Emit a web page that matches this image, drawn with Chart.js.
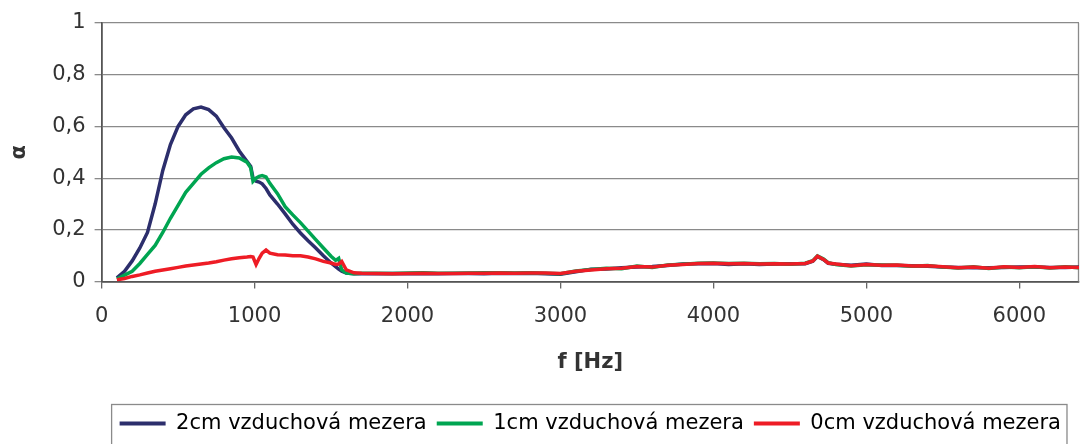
<!DOCTYPE html>
<html>
<head>
<meta charset="utf-8">
<script src="https://cdn.jsdelivr.net/npm/chart.js@4"></script>
<style>
  html, body { margin: 0; padding: 0; background: #fff; }
</style>
</head>
<body>
<canvas id="alpha-chart" width="1080" height="444"></canvas>
<script>
// frequency points [Hz]
const freq = [
    100, 150, 200, 250, 300, 350, 400, 450, 500, 550, 600, 650, 700, 750, 800, 850, 900, 950, 975, 990,
    1010, 1030, 1050, 1075, 1100, 1150, 1200, 1250, 1300, 1350, 1400, 1450, 1500, 1530, 1550, 1570, 1600, 1650, 1700,
    1800, 1900, 2000, 2100, 2200, 2300, 2400, 2500, 2600, 2700, 2800, 2900, 3000, 3100, 3200, 3300, 3400, 3500,
    3600, 3700, 3800, 3900, 4000, 4100, 4200, 4300, 4400, 4500, 4600, 4650, 4680, 4720, 4750,
    4800, 4900, 5000, 5100, 5200, 5300, 5400, 5500, 5600, 5700, 5800, 5900, 6000, 6100, 6200, 6300, 6390
];

// absorption coefficient, 2cm air gap
const alpha2cm = [
    0.015, 0.04, 0.08, 0.13, 0.19, 0.30, 0.43, 0.53, 0.60, 0.645, 0.668, 0.675, 0.665, 0.64, 0.595, 0.555, 0.505, 0.465, 0.445, 0.40,
    0.388, 0.385, 0.378, 0.36, 0.335, 0.30, 0.262, 0.222, 0.188, 0.158, 0.13, 0.10, 0.072, 0.058, 0.048, 0.04, 0.033, 0.03, 0.03,
    0.030, 0.031, 0.030, 0.031, 0.030, 0.031, 0.031, 0.030, 0.032, 0.031, 0.032, 0.030, 0.028, 0.038, 0.048, 0.049, 0.054, 0.056,
    0.058, 0.062, 0.068, 0.069, 0.070, 0.066, 0.069, 0.066, 0.068, 0.069, 0.069, 0.079, 0.097, 0.085, 0.071,
    0.067, 0.063, 0.068, 0.062, 0.062, 0.061, 0.059, 0.056, 0.055, 0.054, 0.054, 0.055, 0.056, 0.056, 0.055, 0.055, 0.056
];

// 1cm air gap
const alpha1cm = [
    0.01, 0.025, 0.04, 0.07, 0.105, 0.14, 0.19, 0.245, 0.295, 0.345, 0.38, 0.415, 0.44, 0.46, 0.475, 0.482, 0.478, 0.462, 0.44, 0.388,
    0.40, 0.407, 0.41, 0.405, 0.38, 0.34, 0.29, 0.258, 0.228, 0.195, 0.162, 0.13, 0.098, 0.082, 0.09, 0.045, 0.033, 0.03, 0.032,
    0.032, 0.031, 0.033, 0.034, 0.032, 0.032, 0.033, 0.034, 0.034, 0.033, 0.034, 0.032, 0.030, 0.041, 0.047, 0.052, 0.050, 0.060,
    0.055, 0.064, 0.067, 0.071, 0.072, 0.070, 0.071, 0.069, 0.070, 0.067, 0.071, 0.081, 0.099, 0.087, 0.073,
    0.066, 0.060, 0.065, 0.064, 0.063, 0.059, 0.062, 0.056, 0.053, 0.057, 0.051, 0.056, 0.054, 0.057, 0.053, 0.057, 0.054
];

// 0cm air gap
const alpha0cm = [
    0.007, 0.012, 0.02, 0.026, 0.033, 0.04, 0.045, 0.05, 0.055, 0.06, 0.064, 0.068, 0.072, 0.077, 0.083, 0.088, 0.092, 0.095, 0.097, 0.095,
    0.066, 0.09, 0.11, 0.122, 0.11, 0.104, 0.103, 0.10, 0.10, 0.095, 0.088, 0.078, 0.072, 0.066, 0.068, 0.078, 0.045, 0.034, 0.032,
    0.031, 0.030, 0.031, 0.032, 0.031, 0.031, 0.032, 0.032, 0.033, 0.032, 0.033, 0.033, 0.031, 0.040, 0.045, 0.050, 0.052, 0.058,
    0.056, 0.063, 0.066, 0.070, 0.071, 0.069, 0.070, 0.068, 0.069, 0.068, 0.070, 0.080, 0.098, 0.086, 0.072,
    0.068, 0.061, 0.066, 0.063, 0.064, 0.060, 0.061, 0.057, 0.054, 0.056, 0.052, 0.057, 0.055, 0.058, 0.054, 0.056, 0.055
];

const seriesNames = ['2cm vzduchová mezera', '1cm vzduchová mezera', '0cm vzduchová mezera'];
const seriesColors = ['#2c2e6c', '#00a551', '#ee1c25'];

const xTicks = [0, 1000, 2000, 3000, 4000, 5000, 6000];
const yTicks = [0, 0.2, 0.4, 0.6, 0.8, 1];

Chart.defaults.font.family = "'DejaVu Sans', sans-serif";
Chart.defaults.font.size = 21;
Chart.defaults.color = '#333333';

function toPoints(values) {
    return values.map((v, i) => ({ x: freq[i], y: v }));
}

// box around the legend + right border of the plot
const frameBits = {
    id: 'frameBits',
    beforeDatasetsDraw(chart) {
        const { ctx, chartArea } = chart;
        ctx.save();
        ctx.strokeStyle = '#8a8a8a';
        ctx.lineWidth = 1.3;
        ctx.beginPath();
        ctx.moveTo(chartArea.right - 0.5, chartArea.top);
        ctx.lineTo(chartArea.right - 0.5, chartArea.bottom);
        ctx.stroke();
        ctx.restore();
    },
    afterDraw(chart) {
        const lg = chart.legend;
        if (!lg || !lg.legendHitBoxes || !lg.legendHitBoxes.length) return;
        const boxes = lg.legendHitBoxes;
        const last = boxes[boxes.length - 1];
        const left = boxes[0].left - 8;
        const right = last.left + last.width + 6;
        const ctx = chart.ctx;
        ctx.save();
        ctx.strokeStyle = '#8a8a8a';
        ctx.lineWidth = 1.3;
        ctx.strokeRect(left, lg.top + 1.5, right - left, lg.height + 10);
        ctx.restore();
    }
};

const datasets = [alpha2cm, alpha1cm, alpha0cm].map((vals, i) => ({
    label: seriesNames[i],
    data: toPoints(vals),
    borderColor: seriesColors[i],
    backgroundColor: seriesColors[i],
    borderWidth: 3.5,
    pointRadius: 0,
    tension: 0,
    fill: false,
    order: 3 - i
}));

new Chart(document.getElementById('alpha-chart'), {
    type: 'line',
    data: { datasets: datasets },
    options: {
        responsive: false,
        animation: false,
        layout: { padding: { top: 23, right: 1, left: 0, bottom: 0 } },
        plugins: {
            tooltip: { enabled: false },
            legend: {
                position: 'bottom',
                fullSize: false,
                labels: {
                    boxWidth: 46,
                    boxHeight: 4,
                    padding: 10,
                    color: '#333333',
                    generateLabels(chart) {
                        return chart.data.datasets.map((ds, i) => ({
                            text: ds.label,
                            fillStyle: ds.borderColor,
                            strokeStyle: ds.borderColor,
                            lineWidth: 0,
                            datasetIndex: i,
                            hidden: false
                        }));
                    }
                }
            }
        },
        scales: {
            x: {
                type: 'linear',
                min: 0,
                max: 6390,
                afterBuildTicks(scale) {
                    scale.ticks = xTicks.map(v => ({ value: v }));
                },
                ticks: { padding: 15, color: '#333333', callback: v => String(v) },
                grid: { drawOnChartArea: false, drawTicks: true, tickLength: 7, color: '#666666', lineWidth: 1.3 },
                border: { color: '#555555', width: 1.8 },
                title: {
                    display: true,
                    text: 'f [Hz]',
                    font: { weight: 'bold' },
                    color: '#333333',
                    padding: { top: 6, bottom: 28 }
                }
            },
            y: {
                min: 0,
                max: 1,
                afterBuildTicks(scale) {
                    scale.ticks = yTicks.map(v => ({ value: v }));
                },
                ticks: {
                    padding: 9,
                    color: '#333333',
                    callback: v => String(Math.round(v * 10) / 10).replace('.', ',')
                },
                grid: { color: '#8a8a8a', lineWidth: 1.3, tickLength: 7 },
                border: { color: '#555555', width: 1.8 },
                title: {
                    display: true,
                    text: 'α',
                    font: { weight: 'bold' },
                    color: '#333333',
                    padding: { top: 7, bottom: 11 }
                }
            }
        }
    },
    plugins: [frameBits]
});
</script>
</body>
</html>
